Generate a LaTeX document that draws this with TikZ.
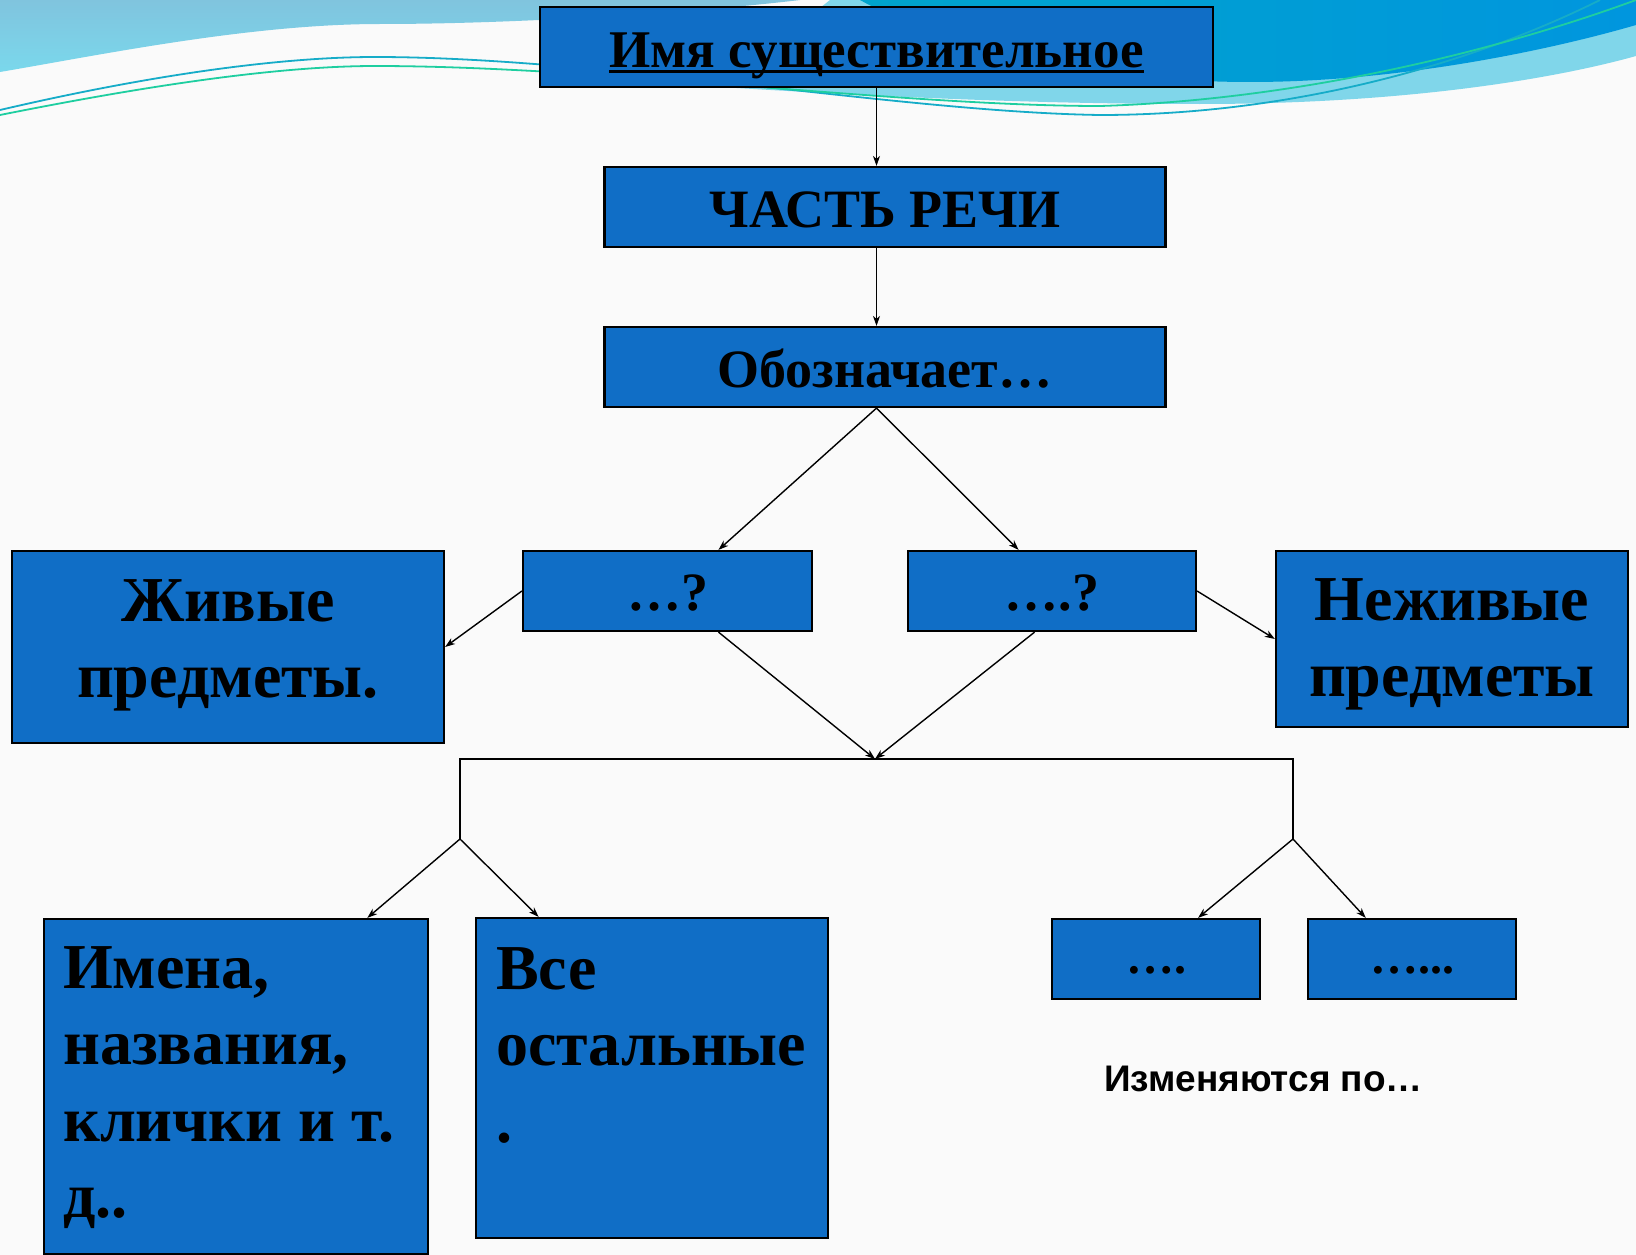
\documentclass[tikz,border=0pt]{standalone}
\usepackage{fontspec}
\setmainfont{Liberation Serif}
\newfontfamily\sansbold{Liberation Sans}
\usetikzlibrary{arrows.meta,calc}
\definecolor{boxblue}{RGB}{16,110,198}
\definecolor{pagebg}{RGB}{250,250,250}
\definecolor{lightA}{RGB}{128,196,222}
\definecolor{lightB}{RGB}{122,216,236}
\definecolor{darkA}{RGB}{0,164,204}
\definecolor{darkB}{RGB}{0,150,222}
\definecolor{bandblue}{RGB}{128,214,234}
\definecolor{tealline}{RGB}{22,172,200}
\definecolor{greenline}{RGB}{30,206,160}
\tikzset{
  box/.style={draw=black, line width=2.2pt, fill=boxblue, rectangle, inner sep=0pt},
  txt/.style={inner sep=0pt, font=\bfseries\fontsize{54}{64}\selectfont},
  bigtxt/.style={inner sep=0pt, font=\bfseries\fontsize{64}{76.5}\selectfont},
  arr/.style={line width=1.4pt, -{Stealth[length=10pt,width=7pt,inset=3pt]}},
  plain/.style={line width=1.4pt}
}
\begin{document}
\begin{tikzpicture}[x=1pt,y=-1pt]
\useasboundingbox (0,0) rectangle (1636,1255);
\fill[pagebg] (0,0) rectangle (1636,1255);
% decoration
\shade[top color=lightA, bottom color=lightB] (0,0) -- (0,72) .. controls (100,55) and (250,24) .. (380,24) .. controls (520,24) and (700,12) .. (800,0) -- cycle;
\fill[bandblue] (830,0) -- (720,87) .. controls (900,98) and (1050,104) .. (1200,104) .. controls (1400,104) and (1550,80) .. (1636,56) -- (1636,0) -- cycle;
\shade[left color=darkA, right color=darkB] (860,0) .. controls (950,50) and (1100,82) .. (1250,82) .. controls (1400,82) and (1550,50) .. (1636,25) -- (1636,0) -- cycle;
\draw[tealline, line width=1.8pt] (0,110) .. controls (150,75) and (280,57) .. (375,57) .. controls (600,57) and (900,112) .. (1100,115) .. controls (1300,115) and (1480,60) .. (1600,0);
\draw[greenline, line width=1.8pt] (0,115) .. controls (150,85) and (280,66) .. (375,66) .. controls (600,66) and (900,106) .. (1100,106) .. controls (1300,100) and (1500,50) .. (1636,0);

% boxes
\node[box, minimum width=673, minimum height=80] (top) at (876.5,47) {};
\node[box, minimum width=561, minimum height=80] (part) at (885,207) {};
\node[box, minimum width=561, minimum height=80] (oboz) at (885,367) {};
\node[box, minimum width=289, minimum height=80] (q1) at (667.5,591) {};
\node[box, minimum width=288, minimum height=80] (q2) at (1052,591) {};
\node[box, minimum width=432, minimum height=192] (zhiv) at (228,647) {};
\node[box, minimum width=352, minimum height=176] (nezh) at (1452,639) {};
\node[box, minimum width=384, minimum height=335] (names) at (236,1086.5) {};
\node[box, minimum width=352, minimum height=320] (rest) at (652,1078) {};
\node[box, minimum width=208, minimum height=80] (d1) at (1156,959) {};
\node[box, minimum width=208, minimum height=80] (d2) at (1412,959) {};

% texts
\node[txt, font=\bfseries\fontsize{53}{64}\selectfont, anchor=base] (t0) at (876.5,67) {Имя существительное};
\draw[line width=3pt] ([yshift=-5pt]t0.base west) -- ([yshift=-5pt]t0.base east);
\node[txt, anchor=base] (t1) at (885,227) {ЧАСТЬ РЕЧИ};
\node[txt, anchor=base] (t2) at (885,387) {Обозначает…};
\node[txt, anchor=base] (tq1) at (667.5,610) {…?};
\node[txt, anchor=base] (tq2) at (1052,610) {….?};
\node[bigtxt, anchor=north, align=center] (tz) at (228,579) {Живые\\предметы.};
\node[bigtxt, anchor=north, align=center] (tn) at (1452,578) {Неживые\\предметы};
\node[bigtxt, anchor=north west, align=left] (tnames) at (63,946) {Имена,\\названия,\\клички и т.\\д..};
\node[bigtxt, anchor=north west, align=left] (trest) at (496,947) {Все\\остальные\\.};
\node[txt, font=\bfseries\fontsize{48}{56}\selectfont, anchor=base] (td1) at (1156,973) {….};
\node[txt, font=\bfseries\fontsize{48}{56}\selectfont, anchor=base] (td2) at (1412,973) {…...};
\node[inner sep=0pt, anchor=base west, font=\sansbold\bfseries\fontsize{37}{43}\selectfont] (izm) at (1104,1091) {Изменяются по…};

% connectors
\coordinate (J) at (875,759);
\coordinate (L) at (460,759);
\coordinate (R) at (1293,759);
\coordinate (LA) at (460,839);
\coordinate (RA) at (1293,839);
\draw[arr] (top.south) -- (top.south |- part.north);
\draw[arr] (part.south -| top.south) -- (top.south |- oboz.north);
\draw[arr] (oboz.south -| top.south) -- ($(q1.north west)!0.675!(q1.north east)$);
\draw[arr] (oboz.south -| top.south) -- ($(q2.north west)!0.385!(q2.north east)$);
\draw[arr] (q1.west) -- (zhiv.east);
\draw[arr] (q2.east) -- (nezh.west);
\draw[arr] ($(q1.south west)!0.675!(q1.south east)$) -- (J);
\draw[arr] ($(q2.south west)!0.44!(q2.south east)$) -- (J);
\draw[plain] (LA) -- (L) -- (R) -- (RA);
\draw[arr] (LA) -- ($(names.north west)!0.84!(names.north east)$);
\draw[arr] (LA) -- ($(rest.north west)!0.18!(rest.north east)$);
\draw[arr] (RA) -- ($(d1.north west)!0.70!(d1.north east)$);
\draw[arr] (RA) -- ($(d2.north west)!0.28!(d2.north east)$);
\end{tikzpicture}
\end{document}
